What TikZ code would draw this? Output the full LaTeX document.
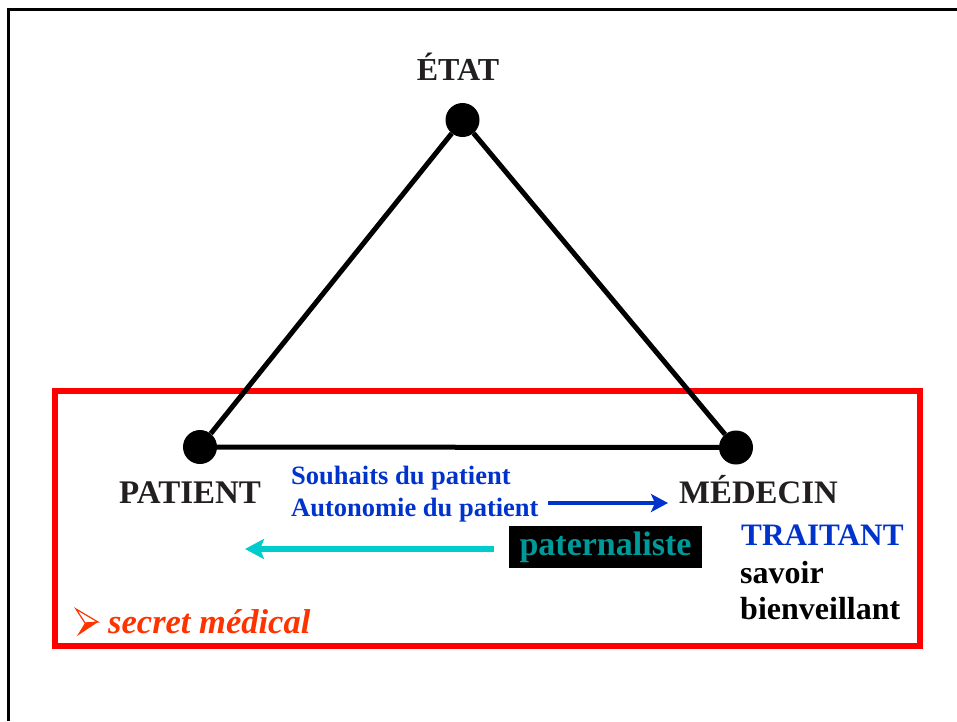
\documentclass[tikz,border=0pt]{standalone}
\usepackage{fontspec}
\setmainfont{Liberation Serif}
\usetikzlibrary{arrows.meta}

\definecolor{inkdark}{HTML}{231F20}
\definecolor{textblue}{HTML}{0033CC}
\definecolor{arrowblue}{HTML}{0033CC}
\definecolor{flecheturq}{HTML}{00CCCC}
\definecolor{tealtext}{HTML}{009999}
\definecolor{redbox}{HTML}{FF0000}
\definecolor{secretred}{HTML}{FF3300}

\newcommand{\fsz}[1]{\fontsize{#1}{#1}\selectfont}

\tikzset{
  vertex/.style={circle, fill=black, draw=none, minimum size=34pt, inner sep=0pt},
  side/.style={line width=5pt, black},
  bigname/.style={inner sep=0pt, text=inkdark, font=\bfseries\fsz{33}},
  bluetext/.style={inner sep=0pt, text=textblue, font=\bfseries\fsz{26.5}},
  blacktext/.style={inner sep=0pt, text=black, font=\bfseries\fsz{32}},
}

\begin{document}
\begin{tikzpicture}[x=1pt, y=-1pt]
  \useasboundingbox (0,0) rectangle (957,721);
  \fill[white] (0,0) rectangle (957,721);

  % slide frame (top and left edges)
  \draw[line width=3pt, black] (957,9.5) -- (8,9.5) -- (8,721);

  % red frame round the lower part
  \draw[line width=6pt, redbox] (55,391) rectangle (920,646);

  % the three poles
  \node[vertex] (etat) at (462.5,120) {};
  \node[vertex] (patient) at (200,447) {};
  \node[vertex] (medecin) at (736,447.5) {};

  \draw[side] (etat) -- (patient);
  \draw[side] (etat) -- (medecin);
  \draw[side] (patient) -- (medecin);

  % pole names
  \node[bigname, anchor=base, font=\bfseries\fsz{32}] (etatlbl) at (458,80) {ÉTAT};
  \node[bigname, anchor=base west] (patlbl) at (119,503) {PATIENT};
  \node[bigname, anchor=base west, font=\bfseries\fsz{32.8}] (medlbl) at (679,503) {MÉDECIN};

  % patient's wishes
  \node[bluetext, anchor=base west] (souhaits) at (291,484) {Souhaits du patient};
  \node[bluetext, anchor=base west] (autonomie) at (291,516) {Autonomie du patient};

  \coordinate (bluestart) at (548,503);
  \coordinate (blueend) at (668,503);
  \draw[arrowblue, line width=4pt,
        -{Stealth[length=17pt, width=18pt, inset=4pt]}] (bluestart) -- (blueend);

  % paternalist relation
  \node[fill=black, inner sep=0pt, minimum width=193pt, minimum height=42pt,
        text=tealtext, font=\bfseries\fsz{34}] (patern) at (605.5,547) {paternaliste};

  \coordinate (cyanstart) at (494,549);
  \coordinate (cyanend) at (245,549);
  \draw[flecheturq, line width=6pt,
        -{Stealth[length=19pt, width=20pt, inset=4pt]}] (cyanstart) -- (cyanend);

  % attending physician
  \node[bluetext, anchor=base west, font=\bfseries\fsz{31.2}] (traitant) at (741,545) {TRAITANT};
  \node[blacktext, anchor=base west] (savoir) at (740,583) {savoir};
  \node[blacktext, anchor=base west] (bienv) at (740,619) {bienveillant};

  % medical secrecy item with arrowhead bullet
  \fill[secretred] (85,623) -- (98,622) -- (77,636) -- cycle;
  \draw[secretred, line width=1.2pt, line join=miter]
        (76,609) -- (98,622) -- (85,623) -- cycle;
  \node[inner sep=0pt, anchor=base west, text=secretred,
        font=\bfseries\itshape\fsz{34.5}] (secret) at (108,633) {secret médical};
\end{tikzpicture}
\end{document}
